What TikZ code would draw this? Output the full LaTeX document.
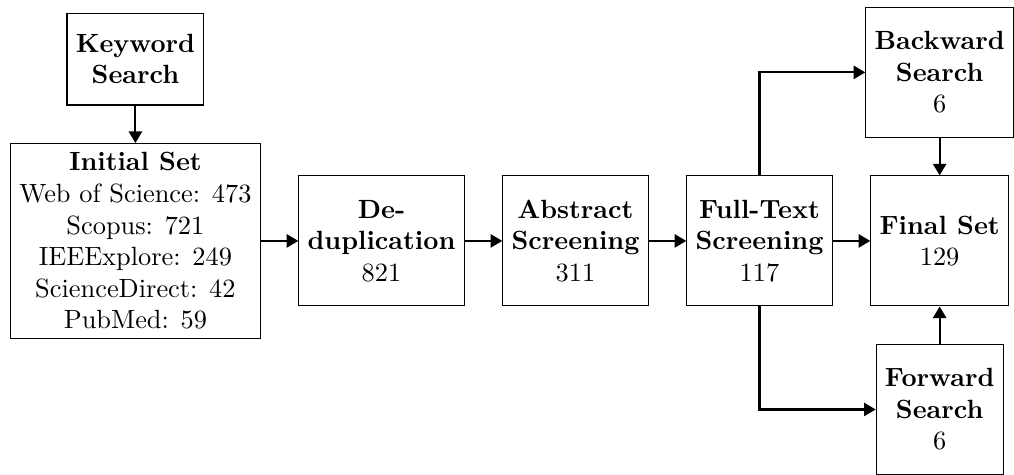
\documentclass[tikz,border=0pt]{standalone}
\usepackage{tikz}
\usetikzlibrary{positioning,arrows.meta,calc}

\begin{document}
\begin{tikzpicture}[node distance=0.5cm,
    box/.style={draw, align=center},
    stage/.style={box, minimum height=49.3pt},
    flow/.style={thick, -{Triangle[length=4.4pt,width=5pt]}}]
    \node[box] (init) {\textbf{Initial Set}\\Web of Science: 473\\Scopus: 721\\IEEExplore: 249\\ScienceDirect: 42\\PubMed: 59};
    \node[box, minimum height=34.8pt, above=of init] (kw) {\textbf{Keyword}\\\textbf{Search}};
    \node[stage, right=of init] (dedup) {\textbf{De-}\\\textbf{duplication}\\821};
    \node[stage, right=of dedup] (abstr) {\textbf{Abstract}\\\textbf{Screening}\\311};
    \node[stage, right=of abstr] (full) {\textbf{Full-Text}\\\textbf{Screening}\\117};
    \node[stage, right=of full] (final) {\textbf{Final Set}\\129};
    \node[stage, above=of final] (back) {\textbf{Backward}\\\textbf{Search}\\6};
    \node[stage, below=of final] (fwd) {\textbf{Forward}\\\textbf{Search}\\6};
    \draw[flow] (kw) -- (init);
    \draw[flow] (init) -- (dedup);
    \draw[flow] (dedup) -- (abstr);
    \draw[flow] (abstr) -- (full);
    \draw[flow] (full) -- (final);
    \draw[flow] (full) |- (back);
    \draw[flow] (full) |- (fwd);
    \draw[flow] (back) -- (final);
    \draw[flow] (fwd) -- (final);
    \useasboundingbox ($(init.west |- back.north)+(-3.8pt,2.6pt)$) rectangle ($(back.east |- final.south)+(0,-61pt)$);
\end{tikzpicture}
\end{document}
